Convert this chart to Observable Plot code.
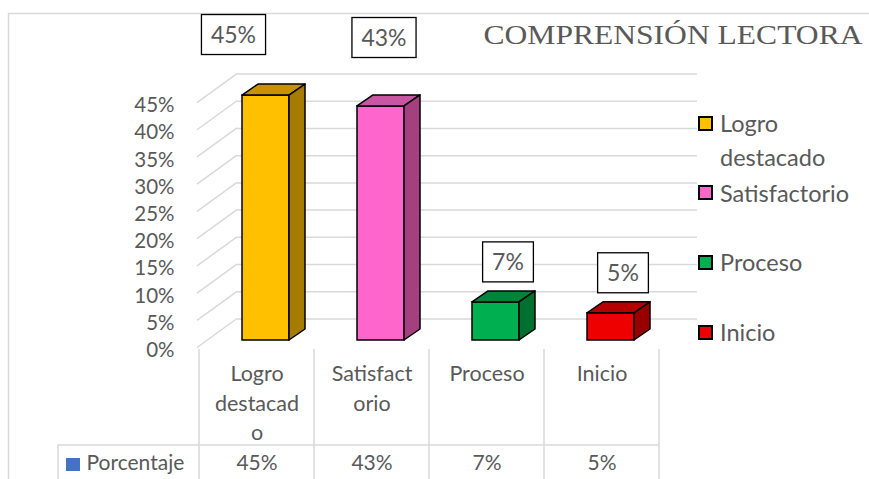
<!DOCTYPE html>
<html>
<head>
<meta charset="utf-8">
<script src="https://cdn.jsdelivr.net/npm/d3@7"></script>
<script src="https://cdn.jsdelivr.net/npm/@observablehq/plot@0.6"></script>
<style>
  body { margin: 0; background: #fff; }
  #wrap { position: relative; width: 869px; height: 479px; overflow: hidden; background: #fff; }
  #wrap svg { position: absolute; left: 0; top: 0; }
  .leg { position: absolute; font-family: Lato, "Open Sans", sans-serif; color: #595959; }
</style>
</head>
<body>
<div id="wrap"></div>
<script>
// ---- data ----
const categories = ["Logro destacado", "Satisfactorio", "Proceso", "Inicio"];
const tableLabels = ["Logro\ndestacad\no", "Satisfact\norio", "Proceso", "Inicio"];
const values = [0.45, 0.43, 0.07, 0.05];
const yTicks = [0, 0.05, 0.10, 0.15, 0.20, 0.25, 0.30, 0.35, 0.40, 0.45];
const seriesName = "Porcentaje";
const chartTitle = "COMPRENSIÓN LECTORA";
const frontColors = ["#FFC000", "#FF66CC", "#00B050", "#EE0000"];
const sideColors = ["#A57C00", "#A4407F", "#00702E", "#980000"];
const topColors = ["#C69300", "#C956A2", "#00843A", "#B40000"];
const seriesColor = "#4472C4";

// ---- layout / style constants ----
const W = 869, H = 479;
const mL = 199, mR = 210, mT = 67.8, mB = 139;
const DX = 16, DY = -11;               // bar depth offset (px)
const GX = 40, GF = 7.5, GB = -21.5;   // grid perspective
const insetL = 43, insetR = 25;
const labelNudge = [[-44.5, -20.5], [-9, -28.4], [0, 0], [0, 0]];
const textColor = "#595959";
const gridColor = "#D9D9D9";
const sans = "Lato, 'Open Sans', sans-serif";
const fmt = d3.format(".0%");

const data = categories.map((c, i) => ({cat: c, value: values[i], label: tableLabels[i], i}));

const ctx = document.createElement("canvas").getContext("2d");
function measure(t, size) { ctx.font = `${size}px Lato`; return ctx.measureText(t).width; }

function gridAndTable(index, scales, vals, dims) {
  const {x, y} = scales;
  const x0 = dims.marginLeft, xEnd = dims.width - dims.marginRight;
  const g = d3.create("svg:g").attr("fill", "none").attr("stroke", gridColor).attr("stroke-width", 1.5);
  // chart border
  g.append("path").attr("d", `M8.5,${dims.height}V13.5H${dims.width}`);
  // perspective diagonals
  for (const v of yTicks) g.append("path").attr("d", `M${x0 - 2},${y(v) + GF}L${x0 - 2 + GX},${y(v) + GB}`);
  // data table lines
  const yTop = y(0) + 9, yRow = y(0) + 105;
  for (const c of categories) g.append("path").attr("d", `M${x(c)},${yTop}V${dims.height}`);
  g.append("path").attr("d", `M${xEnd},${yTop}V${dims.height}`);
  g.append("path").attr("d", `M58,${dims.height}V${yRow}H${xEnd}`);
  // series key
  g.append("rect").attr("x", 66).attr("y", yRow + 13).attr("width", 14).attr("height", 13)
    .attr("fill", seriesColor).attr("stroke", "none");
  return g.node();
}

function faces(index, scales, vals, dims) {
  const {x, y} = scales;
  const bw = x.bandwidth();
  const g = d3.create("svg:g").attr("stroke", "#000").attr("stroke-width", 1.5).attr("stroke-linejoin", "round");
  for (const d of data) {
    const x1 = x(d.cat) + insetL, x2 = x(d.cat) + bw - insetR;
    const yt = y(d.value), yb = y(0);
    g.append("path").attr("fill", topColors[d.i])
      .attr("d", `M${x1},${yt}L${x1 + DX},${yt + DY}L${x2 + DX},${yt + DY}L${x2},${yt}Z`);
    g.append("path").attr("fill", sideColors[d.i])
      .attr("d", `M${x2},${yt}L${x2 + DX},${yt + DY}L${x2 + DX},${yb + DY}L${x2},${yb}Z`);
  }
  return g.node();
}

function valueLabels(index, scales, vals, dims) {
  const {x, y} = scales;
  const g = d3.create("svg:g");
  const fs = 23;
  for (const d of data) {
    const t = fmt(d.value);
    const cx = x(d.cat) + insetL + 36 + labelNudge[d.i][0];
    const cy = y(d.value) + DY - 29 + labelNudge[d.i][1];
    const w = measure(t, fs) + 19, h = 40;
    g.append("rect").attr("x", cx - w / 2).attr("y", cy - h / 2).attr("width", w).attr("height", h)
      .attr("fill", "#fff").attr("stroke", "#000").attr("stroke-width", 1.3);
    g.append("text").attr("x", cx).attr("y", cy).attr("dy", "0.35em").attr("text-anchor", "middle")
      .attr("font-family", sans).attr("font-size", fs).attr("fill", textColor).text(t);
  }
  return g.node();
}

const chart = Plot.plot({
  width: W, height: H,
  marginLeft: mL, marginRight: mR, marginTop: mT, marginBottom: mB,
  style: {fontFamily: sans, color: textColor, background: "transparent", overflow: "visible"},
  x: {type: "band", domain: categories, padding: 0, axis: null},
  y: {domain: [0, 0.5]},
  color: {type: "ordinal", domain: categories, range: frontColors},
  marks: [
    Plot.ruleY(yTicks, {stroke: gridColor, strokeWidth: 1.5, dx: GX - 2, dy: GB}),
    gridAndTable,
    Plot.axisY(yTicks, {tickSize: 0, tickPadding: 25, tickFormat: fmt, dy: 10, fontSize: 20.5, label: null}),
    Plot.barY(data, {x: "cat", y: "value", fill: "cat", stroke: "#000", strokeWidth: 1.5, insetLeft: insetL, insetRight: insetR}),
    faces,
    valueLabels,
    Plot.text(data, {x: "cat", text: "label", frameAnchor: "bottom", lineAnchor: "top", dy: 20, lineHeight: 1.36, fontSize: 21.5}),
    Plot.text(data, {x: "cat", text: d => fmt(d.value), frameAnchor: "bottom", lineAnchor: "middle", dy: 123, fontSize: 21}),
    Plot.text([seriesName], {text: d => d, frameAnchor: "bottom-left", textAnchor: "start", lineAnchor: "middle", dx: -113, dy: 123, fontSize: 21}),
    Plot.text([chartTitle], {text: d => d, frameAnchor: "top-right", textAnchor: "end", lineAnchor: "bottom", dx: 203, dy: 43 - mT,
      fontFamily: "'Liberation Serif', 'Times New Roman', serif", fontSize: 28, className: "ctitle"})
  ]
});
document.getElementById("wrap").appendChild(chart);

// stretch title to reference width
const tt = chart.querySelector(".ctitle text");
if (tt) { tt.setAttribute("textLength", 379); tt.setAttribute("lengthAdjust", "spacingAndGlyphs"); }

// ---- legend ----
const wrap = d3.select("#wrap");
categories.forEach((c, i) => {
  const cy = 123 + i * 69.7;
  wrap.append("div").attr("class", "leg")
    .style("left", "698px").style("top", `${cy - 7.5}px`).style("width", "11px").style("height", "11px")
    .style("border", "2px solid #000").style("background", frontColors[i]);
  wrap.append("div").attr("class", "leg")
    .style("left", "720px").style("top", `${cy - 17}px`).style("width", "145px")
    .style("font-size", "23.5px").style("line-height", "34px").text(c);
});
</script>
</body>
</html>
